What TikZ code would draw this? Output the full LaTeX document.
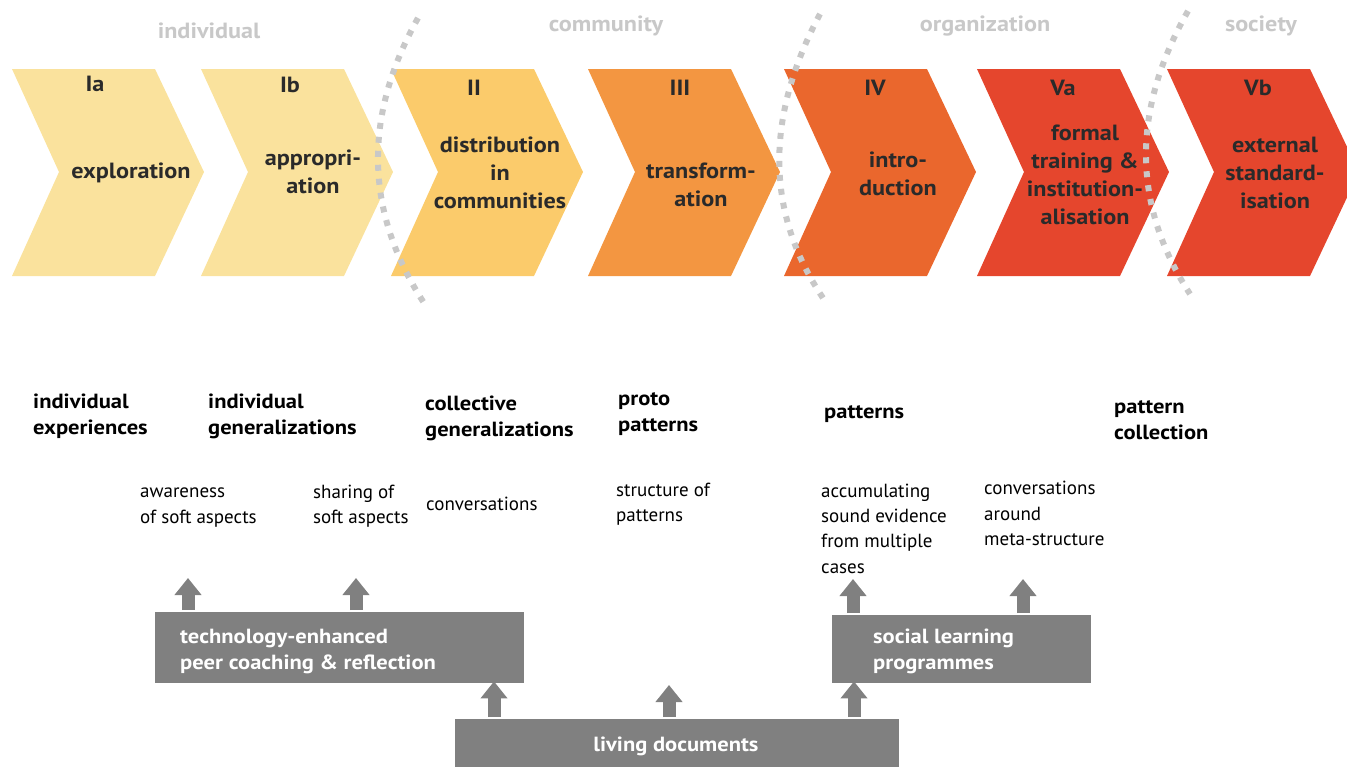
\documentclass[tikz,border=0pt]{standalone}
\usepackage{fontspec}
\setmainfont{PT Sans}[BoldFeatures={FakeStretch=1.1}]
\usetikzlibrary{arrows.meta,calc}
\definecolor{yel}{HTML}{FAE29D}
\definecolor{yel2}{HTML}{FBCB6B}
\definecolor{ora}{HTML}{F39641}
\definecolor{ora2}{HTML}{EA672D}
\definecolor{redo}{HTML}{E5462D}
\definecolor{ink}{HTML}{2A2A2A}
\definecolor{boxgray}{HTML}{808080}
\definecolor{dotgray}{HTML}{C8C8C8}
\tikzset{
  chevlab/.style={inner sep=0pt, yshift=-2pt, font=\bfseries\fontsize{22}{28}\selectfont, text=ink, align=center},
  chevnum/.style={inner sep=0pt, yshift=-1pt, font=\bfseries\fontsize{22}{28}\selectfont, text=ink},
  grouplab/.style={inner sep=0pt, yshift=-2pt, font=\bfseries\fontsize{22}{26}\selectfont, text=dotgray},
  midbold/.style={inner sep=0pt, yshift=-2pt, anchor=west, align=left, font=\bfseries\fontsize{20.5}{26}\selectfont, text=black},
  midreg/.style={inner sep=0pt, yshift=-2.5pt, anchor=west, align=left, font=\fontsize{19}{25.3}\selectfont, text=black},
  graybox/.style={fill=boxgray, draw=none, inner sep=0pt, anchor=north west},
  boxtext/.style={inner sep=0pt, yshift=-2pt, text=white, align=left, font=\bfseries\fontsize{20.5}{26}\selectfont},
  blockarrow/.style={draw=boxgray, line width=13pt, -{Triangle[width=26pt,length=17pt]}},
  dotline/.style={draw=dotgray, line width=6pt, dash pattern=on 6pt off 8pt},
}
\newcommand{\chevron}[2]{%
  \fill[#2] (#1,69) -- ++(143,0) -- ++(49,103) -- ++(-49,104) -- ++(-143,0) -- ++(47,-104) -- cycle;}
\begin{document}
\begin{tikzpicture}[x=1pt,y=-1pt]
\useasboundingbox (0,0) rectangle (1347,766);
\clip (0,0) rectangle (1347,766);
% chevrons
\chevron{12}{yel}
\chevron{201}{yel}
\chevron{391}{yel2}
\chevron{588}{ora}
\chevron{784}{ora2}
\chevron{977}{redo}
\chevron{1167}{redo}
% dotted boundaries
\draw[dotline] (418,18) .. controls (362.7,116.7) and (364.7,211.7) .. (424,303);
\draw[dotline] (820,14) .. controls (764.7,118) and (765.7,212.7) .. (823,298);
\draw[dotline] (1188,11) .. controls (1131.3,110.3) and (1132,204.7) .. (1190,294);
% group labels
\node[grouplab] (gind) at (209,29) {individual};
\node[grouplab] (gcom) at (606,24) {community};
\node[grouplab] (gorg) at (985,24) {organization};
\node[grouplab] (gsoc) at (1261,24) {society};
% chevron numbers and labels
\node[chevnum] (nIa) at (95,83) {Ia};
\node[chevnum] (nIb) at (290,84) {Ib};
\node[chevnum] (nII) at (474,87) {II};
\node[chevnum] (nIII) at (680,87) {III};
\node[chevnum] (nIV) at (875,87) {IV};
\node[chevnum] (nVa) at (1063,87) {Va};
\node[chevnum] (nVb) at (1258,87) {Vb};
\node[chevlab] (lIa) at (131,171) {exploration};
\node[chevlab] (lIb) at (313,170) {appropri-\\ation};
\node[chevlab] (lII) at (500,171) {distribution\\in\\communities};
\node[chevlab] (lIII) at (701,183) {transform-\\ation};
\node[chevlab] (lIV) at (898,172) {intro-\\duction};
\node[chevlab] (lVa) at (1085,173) {formal\\training \&\\institution-\\alisation};
\node[chevlab] (lVb) at (1275,171) {external\\standard-\\isation};
% middle bold labels
\node[midbold] (ie) at (33,414) {individual\\experiences};
\node[midbold] (ig) at (208,414) {individual\\generalizations};
\node[midbold] (cg) at (425,416) {collective\\generalizations};
\node[midbold] (pp) at (618,412) {proto\\patterns};
\node[midbold] (pa) at (824,412) {patterns};
\node[midbold] (pc) at (1114,418) {pattern\\collection};
% regular labels
\node[midreg] (r1) at (140,505) {awareness\\of soft aspects};
\node[midreg] (r2) at (313,503.5) {sharing of\\soft aspects};
\node[midreg] (r3) at (426,501) {conversations};
\node[midreg] (r4) at (616,502) {structure of\\patterns};
\node[midreg] (r5) at (821,526) {accumulating\\sound evidence\\from multiple\\cases};
\node[midreg] (r6) at (984,511) {conversations\\around\\meta-structure};
% gray boxes
\node[graybox, minimum width=369pt, minimum height=71pt] (tech) at (155,612) {};
\node[boxtext, anchor=west] (techt) at (180,649) {technology-enhanced\\peer coaching \& reflection};
\node[graybox, minimum width=259pt, minimum height=68pt] (slp) at (832,615) {};
\node[boxtext, anchor=west] (slpt) at (873,649) {social learning\\programmes};
\node[graybox, minimum width=444pt, minimum height=60pt] (live) at (455,719) {};
\node[boxtext] (livet) at (676,744) {living documents};
% arrows
\coordinate (t1) at (188,578);
\coordinate (t2) at (356,578);
\coordinate (t3) at (853,579);
\coordinate (t4) at (1023,579);
\coordinate (t5) at (669,685);
\draw[blockarrow] ([yshift=2pt]tech.north -| t1) -- (t1);
\draw[blockarrow] ([yshift=2pt]tech.north -| t2) -- (t2);
\draw[blockarrow] ([yshift=2pt]slp.north -| t3) -- (t3);
\draw[blockarrow] ([yshift=2pt]slp.north -| t4) -- (t4);
\draw[blockarrow] ([yshift=2pt]live.north -| 494,0) -- ([yshift=2pt]tech.south -| 494,0);
\draw[blockarrow] ([yshift=2pt]live.north -| t5) -- (t5);
\draw[blockarrow] ([yshift=2pt]live.north -| 854,0) -- ([yshift=2pt]slp.south -| 854,0);
\end{tikzpicture}
\end{document}
